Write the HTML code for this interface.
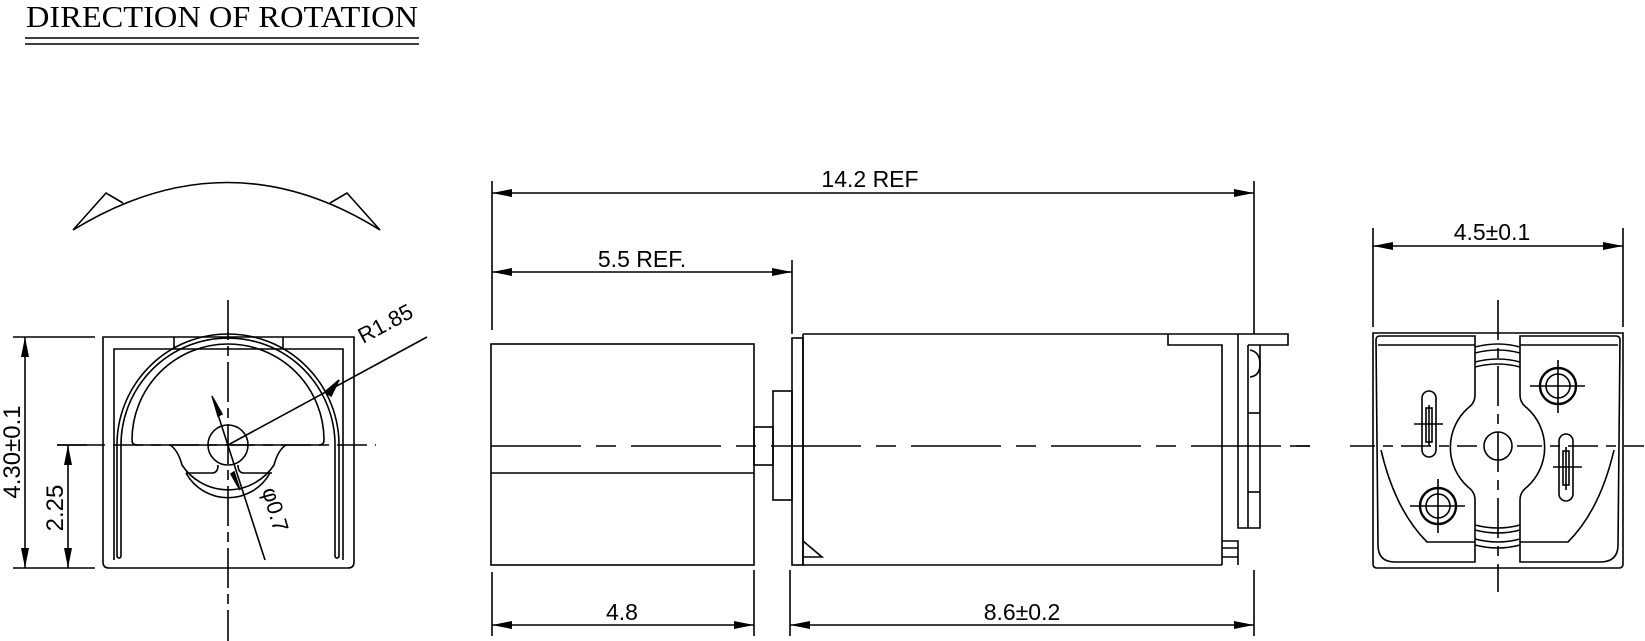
<!DOCTYPE html>
<html><head><meta charset="utf-8"><style>
html,body{margin:0;padding:0;background:#fff;}
svg{display:block;}
text{font-family:"Liberation Sans",sans-serif;fill:#000;}
</style></head><body>
<svg width="1645" height="641" viewBox="0 0 1645 641" xmlns="http://www.w3.org/2000/svg">
<defs>
<marker id="a" viewBox="0 0 20 8" refX="20" refY="4" markerWidth="20" markerHeight="8" markerUnits="userSpaceOnUse" orient="auto-start-reverse"><path d="M0,0 L20,4 L0,8 Z" fill="#000"/></marker>
</defs>
<g fill="none" stroke="#000" stroke-width="1.6">
<!-- title -->
<text x="26" y="27" font-family="Liberation Serif" font-size="31" textLength="392" lengthAdjust="spacingAndGlyphs" stroke="none" style="font-family:'Liberation Serif',serif">DIRECTION OF ROTATION</text>
<line x1="25" y1="38" x2="419" y2="38"/>
<line x1="25" y1="44" x2="419" y2="44"/>

<!-- rotation arc -->
<path d="M73,230 Q228,135 380,230"/>
<path d="M73,230 L106,193 L123,203" />
<path d="M380,230 L347,193 L330,203" />

<!-- LEFT VIEW -->
<path d="M103,337 H354 V562 Q354,568 348,568 H109 Q103,568 103,562 Z"/>
<line x1="174" y1="337" x2="174" y2="349"/>
<line x1="283" y1="337" x2="283" y2="349"/>
<path d="M114,560 V349 H343 V560"/>
<path d="M117,445 A111,111 0 0 1 339,445 V556 A2,2 0 0 1 335,556 V445 A107,107 0 0 0 121,445 V556 A2,2 0 0 1 117,556 Z"/>
<path d="M132,440 A96,96 0 0 1 324,440 Q324,445 319,445 H137 Q132,445 132,440 Z"/>
<path d="M170,445 Q178,450 182,465 A55,55 0 0 0 274,465 Q278,450 286,445"/>
<path d="M186,473 H212 Q218,473 218,465 M238,465 Q238,473 244,473 H272"/>
<path d="M186,473 A48,48 0 0 0 270,473"/>
<circle cx="228" cy="445" r="20"/>
<line x1="228" y1="300" x2="228" y2="641" stroke-dasharray="40,6,10,6"/>
<line x1="57" y1="445" x2="376" y2="445" stroke-dasharray="30,8,10,8"/>
<line x1="228" y1="445" x2="427" y2="337"/>
<path d="M325,392 L339,380 L331,396 Z" fill="#000"/>
<text x="0" y="0" font-size="22" stroke="none" transform="translate(363,344) rotate(-28)">R1.85</text>
<line x1="212" y1="396" x2="265" y2="560"/>
<path d="M218,416 L213,398 L222,414 Z" fill="#000"/>
<path d="M234,472 L240,490 L231,474 Z" fill="#000"/>
<text x="0" y="0" font-size="22" stroke="none" transform="translate(262,490) rotate(74)">φ0.7</text>
<line x1="13" y1="337" x2="95" y2="337"/>
<line x1="13" y1="568" x2="95" y2="568"/>
<line x1="25" y1="337" x2="25" y2="568" marker-start="url(#a)" marker-end="url(#a)"/>
<line x1="57" y1="445" x2="95" y2="445"/>
<line x1="68" y1="445" x2="68" y2="568" marker-start="url(#a)" marker-end="url(#a)"/>
<text x="0" y="0" font-size="24" stroke="none" text-anchor="middle" transform="translate(20,452) rotate(-90)">4.30±0.1</text>
<text x="0" y="0" font-size="24" stroke="none" text-anchor="middle" transform="translate(63,508) rotate(-90)">2.25</text>

<!-- MIDDLE VIEW -->
<rect x="491" y="344" width="263" height="221"/>
<line x1="491" y1="473" x2="754" y2="473"/>
<rect x="754" y="427" width="19" height="38"/>
<rect x="773" y="391" width="19" height="109"/>
<rect x="792" y="338" width="11" height="227"/>
<path d="M803,334 H1288 V345 H1248"/>
<line x1="803" y1="334" x2="803" y2="565"/>
<line x1="803" y1="565" x2="1222" y2="565"/>
<path d="M1168,334 V345 H1222 V565"/>
<path d="M1238,334 V528 H1260 V345"/>
<line x1="1248" y1="345" x2="1248" y2="528"/>
<line x1="1248" y1="413" x2="1260" y2="413"/>
<line x1="1248" y1="492" x2="1260" y2="492"/>
<path d="M1250,350 Q1260,352 1260,364 Q1260,376 1250,377"/>
<path d="M1222,541 H1238 V565 M1222,548 H1238 M1222,557 H1238"/>
<path d="M803,541 L822,557 H803"/>
<line x1="491" y1="446" x2="1310" y2="446" stroke-dasharray="90,15,20,15"/>
<line x1="492" y1="181" x2="492" y2="330"/>
<line x1="492" y1="572" x2="492" y2="636"/>
<line x1="1254" y1="181" x2="1254" y2="334"/>
<line x1="1254" y1="570" x2="1254" y2="636"/>
<line x1="792" y1="260" x2="792" y2="334"/>
<line x1="754" y1="570" x2="754" y2="636"/>
<line x1="790" y1="570" x2="790" y2="636"/>
<line x1="492" y1="193" x2="1254" y2="193" marker-start="url(#a)" marker-end="url(#a)"/>
<line x1="492" y1="272" x2="792" y2="272" marker-start="url(#a)" marker-end="url(#a)"/>
<line x1="492" y1="625" x2="754" y2="625" marker-start="url(#a)" marker-end="url(#a)"/>
<line x1="790" y1="625" x2="1254" y2="625" marker-start="url(#a)" marker-end="url(#a)"/>
<text x="870" y="187" font-size="23" stroke="none" text-anchor="middle">14.2  REF</text>
<text x="642" y="267" font-size="23" stroke="none" text-anchor="middle">5.5  REF.</text>
<text x="622" y="620" font-size="23" stroke="none" text-anchor="middle">4.8</text>
<text x="1022" y="620" font-size="23" stroke="none" text-anchor="middle">8.6±0.2</text>

<!-- RIGHT VIEW -->
<path d="M1373,333 H1623 V564 Q1623,568 1619,568 H1377 Q1373,568 1373,564 Z"/>
<path d="M1376,340 Q1376,336 1380,336 H1475 V395 Q1475,403 1468,408 A53,53 0 0 0 1468,487 Q1475,492 1475,500 V562 H1395 Q1378,562 1378,545 Z"/>
<path d="M1620,340 Q1620,336 1616,336 H1520 V395 Q1520,403 1527,408 A53,53 0 0 1 1527,487 Q1520,492 1520,500 V562 H1600 Q1618,562 1618,545 Z"/>
<line x1="1378" y1="345" x2="1475" y2="345"/>
<line x1="1520" y1="345" x2="1618" y2="345"/>
<path d="M1381,450 Q1395,510 1427,542 H1475"/>
<path d="M1614,450 Q1600,510 1568,542 H1520"/>
<path d="M1475,347 Q1498,341 1520,347 M1475,353 Q1498,347 1520,353 M1475,362 Q1498,356 1520,362 M1475,367 Q1498,361 1520,367"/>
<path d="M1475,525 Q1498,531 1520,525 M1475,530 Q1498,536 1520,530 M1475,539 Q1498,545 1520,539 M1475,545 Q1498,551 1520,545"/>
<circle cx="1498" cy="446" r="14"/>
<rect x="1422" y="391" width="14" height="66" rx="7"/>
<rect x="1426" y="408" width="6" height="34"/>
<line x1="1414" y1="424" x2="1443" y2="424"/>
<line x1="1429" y1="405" x2="1429" y2="446"/>
<rect x="1559" y="434" width="14" height="67" rx="7"/>
<rect x="1563" y="451" width="6" height="34"/>
<line x1="1553" y1="467" x2="1582" y2="467"/>
<line x1="1566" y1="447" x2="1566" y2="490"/>
<circle cx="1558" cy="386" r="18" stroke-width="2.4"/>
<circle cx="1558" cy="386" r="12"/>
<line x1="1530" y1="386" x2="1585" y2="386"/>
<line x1="1558" y1="360" x2="1558" y2="413"/>
<circle cx="1438" cy="506" r="18" stroke-width="2.4"/>
<circle cx="1438" cy="506" r="12"/>
<line x1="1410" y1="506" x2="1465" y2="506"/>
<line x1="1438" y1="479" x2="1438" y2="533"/>
<line x1="1290" y1="446" x2="1645" y2="446" stroke-dasharray="20,40,25,8,10,8,30,8,10,8"/>
<line x1="1498" y1="300" x2="1498" y2="592" stroke-dasharray="40,8,10,8"/>
<line x1="1373" y1="228" x2="1373" y2="327"/>
<line x1="1623" y1="228" x2="1623" y2="327"/>
<line x1="1373" y1="246" x2="1623" y2="246" marker-start="url(#a)" marker-end="url(#a)"/>
<text x="1492" y="240" font-size="23" stroke="none" text-anchor="middle">4.5±0.1</text>
</g>
</svg>
</body></html>
